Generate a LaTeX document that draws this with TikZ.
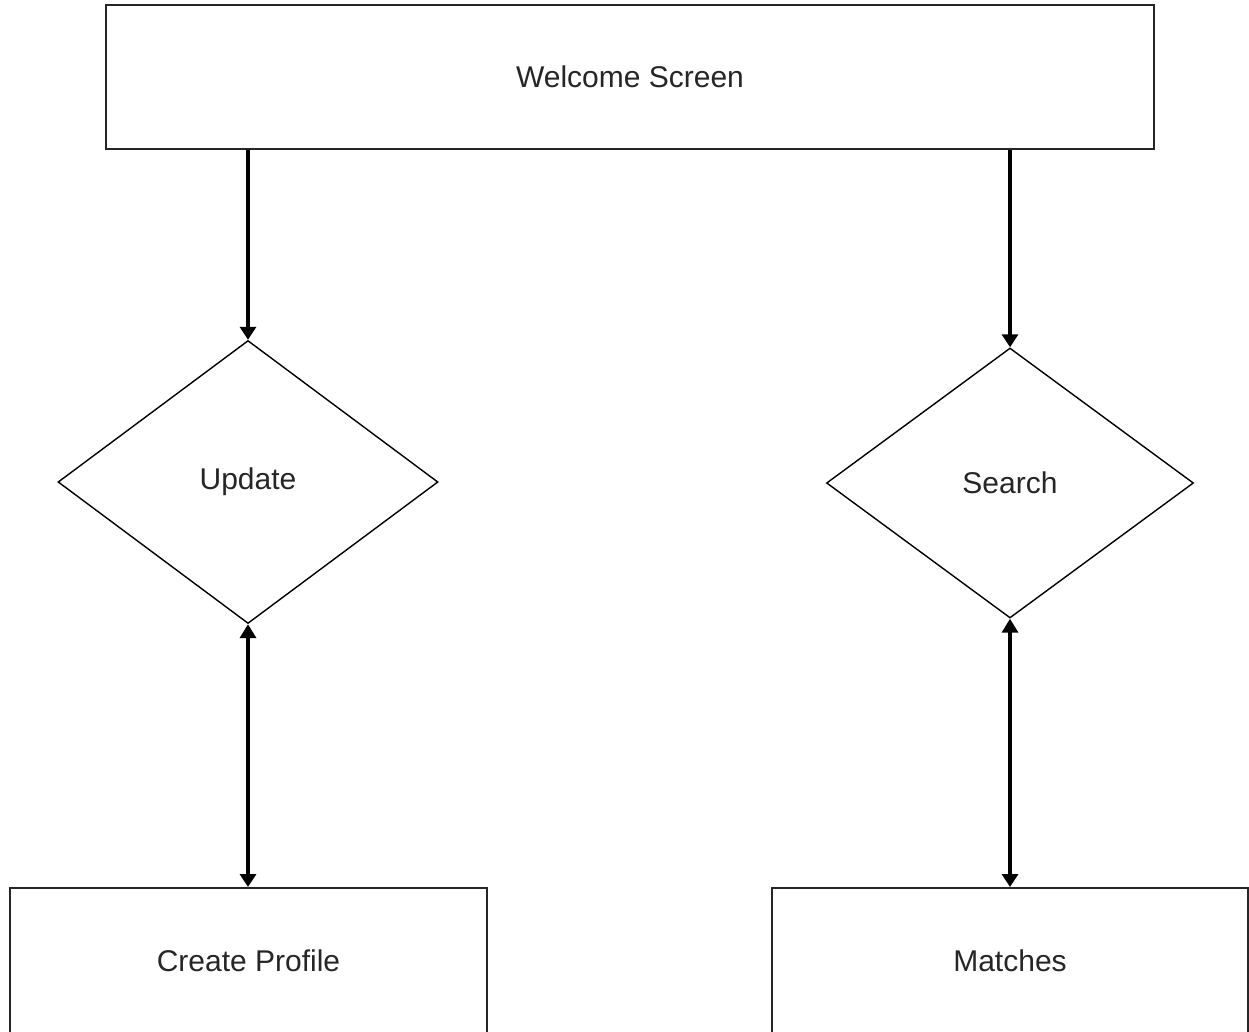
\documentclass[tikz,border=0pt]{standalone}
\usepackage{fontspec}
\setmainfont{Liberation Sans}
\usetikzlibrary{shapes.geometric,arrows.meta}
\begin{document}
\begin{tikzpicture}[x=1pt,y=-1pt,
  every node/.style={font=\fontsize{30}{35}\selectfont, inner sep=0pt, text=black!85},
  box/.style={draw=black!85, line width=2pt, rectangle},
  dia/.style={draw=black, line width=1.4pt, diamond},
  arr/.style={line width=4pt, -{Triangle[length=13pt,width=16pt]}},
  darr/.style={line width=4pt, {Triangle[length=14pt,width=16pt]}-{Triangle[length=13pt,width=16pt]}}
]
\useasboundingbox[fill=white] (0,0) rectangle (1249,1032);
\node[box, minimum width=1048pt, minimum height=144pt] (welcome) at (630,77) {Welcome Screen};
\node[dia, minimum width=380pt, minimum height=283pt] (update) at (248,482) {Update};
\node[dia, minimum width=367pt, minimum height=270pt] (search) at (1010,483) {Search};
\node[box, minimum width=477pt, minimum height=146pt] (create) at (248.5,961) {Create Profile};
\node[box, minimum width=476pt, minimum height=146pt] (matches) at (1010,961) {Matches};
\draw[arr] (update.north |- welcome.south) -- (update.north);
\draw[arr, line width=3.3pt] (search.north |- welcome.south) -- (search.north);
\draw[darr] (update.south) -- (update.south |- create.north);
\draw[darr, line width=3.3pt] (search.south) -- (search.south |- matches.north);
\end{tikzpicture}
\end{document}
